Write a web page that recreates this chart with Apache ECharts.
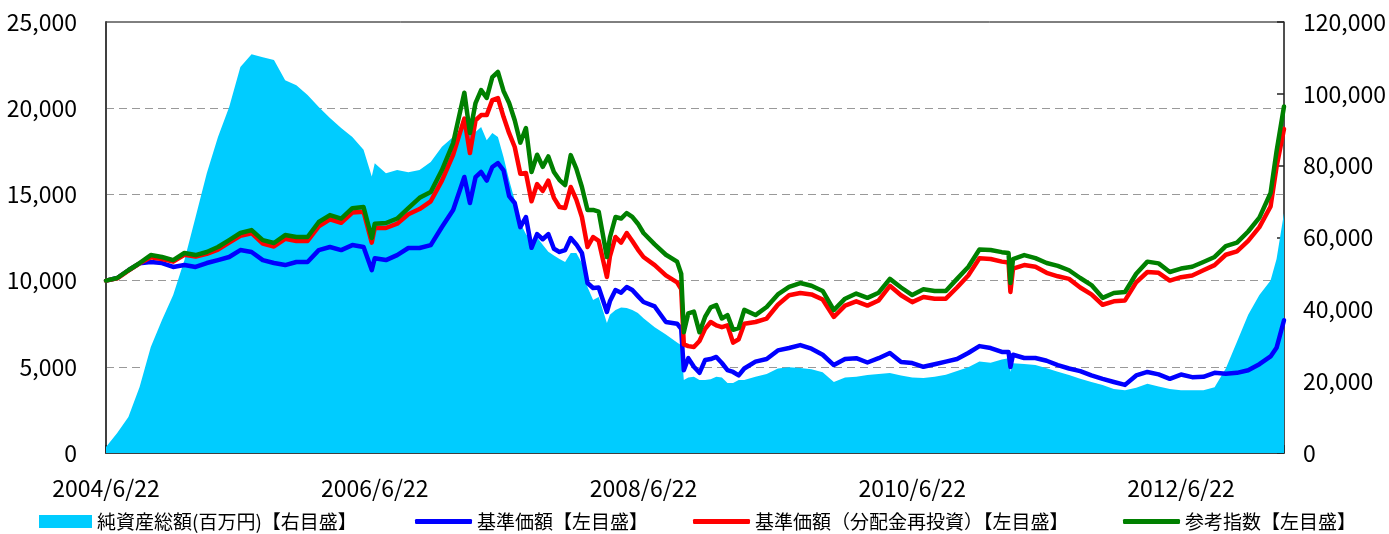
<!DOCTYPE html>
<html>
<head>
<meta charset="utf-8">
<title>基準価額・純資産総額の推移</title>
<script src="https://cdn.jsdelivr.net/npm/echarts@6/dist/echarts.min.js"></script>
<style>
html, body { margin: 0; padding: 0; background: #fff; }
#main { width: 1389px; height: 534px; }
</style>
</head>
<body>
<div id="main"></div>
<script>
// 日付（ほぼ月次、値動きの大きい期間は月2回）
var dates = [
	'2004/6/22','2004/7/22','2004/8/22','2004/9/22','2004/10/22','2004/11/22','2004/12/22',
	'2005/1/22','2005/2/22','2005/3/22','2005/4/22','2005/5/22','2005/6/22','2005/7/22','2005/8/22','2005/9/22','2005/10/22','2005/11/22','2005/12/22',
	'2006/1/22','2006/2/22','2006/3/22','2006/4/22','2006/5/22','2006/6/14','2006/6/22','2006/7/22','2006/8/22','2006/9/22','2006/10/22','2006/11/22','2006/12/22',
	'2007/1/22','2007/2/22','2007/3/7','2007/3/22','2007/4/7','2007/4/22','2007/5/7','2007/5/22','2007/6/7','2007/6/22','2007/7/7','2007/7/22','2007/8/7','2007/8/22','2007/9/7','2007/9/22','2007/10/7','2007/10/22','2007/11/7','2007/11/22','2007/12/7','2007/12/22',
	'2008/1/7','2008/1/22','2008/2/7','2008/2/22','2008/3/14','2008/3/22','2008/4/7','2008/4/22','2008/5/7','2008/5/22','2008/6/7','2008/6/22','2008/7/22','2008/8/22','2008/9/22','2008/10/3','2008/10/10','2008/10/22','2008/11/7','2008/11/22','2008/12/7','2008/12/22',
	'2009/1/7','2009/1/22','2009/2/7','2009/2/22','2009/3/7','2009/3/22','2009/4/22','2009/5/22','2009/6/22','2009/7/22','2009/8/22','2009/9/22','2009/10/22','2009/11/22','2009/12/22',
	'2010/1/22','2010/2/22','2010/3/22','2010/4/22','2010/5/22','2010/6/22','2010/7/22','2010/8/22','2010/9/22','2010/10/22','2010/11/22','2010/12/22',
	'2011/1/22','2011/2/22','2011/3/10','2011/3/15','2011/3/22','2011/4/22','2011/5/22','2011/6/22','2011/7/22','2011/8/22','2011/9/22','2011/10/22','2011/11/22','2011/12/22',
	'2012/1/22','2012/2/22','2012/3/22','2012/4/22','2012/5/22','2012/6/22','2012/7/22','2012/8/22','2012/9/22','2012/10/22','2012/11/22','2012/12/22',
	'2013/1/22','2013/2/22','2013/3/8','2013/3/28'
];

// 純資産総額(百万円)【右目盛】
var netAssets = [
	1700,5600,10000,18400,29500,37000,44000,
	53700,65700,77900,88000,96300,107500,111000,110200,109400,103800,102400,99700,
	96300,93300,90500,88000,84400,77000,80700,77900,78800,78200,78800,81000,85300,
	88000,90800,89400,89400,90800,87100,89100,88000,82400,76000,70400,64000,61000,59000,60000,58000,56000,55000,54000,53200,55700,55700,
	52900,46200,42600,43400,36200,38500,39800,40500,40400,39800,39000,37500,35000,33000,30800,30000,20300,21000,21200,20300,20300,20500,
	21200,21000,19500,19500,20300,20300,21200,22000,23500,23900,23700,23300,22500,19800,21000,
	21200,21700,22000,22300,21600,21000,20900,21200,21800,22800,23900,25500,
	25100,26000,26400,22600,25000,24800,24500,23600,22600,21700,20700,19800,18900,17800,
	17500,18200,19300,18500,17800,17500,17500,17500,18300,23500,31000,38500,
	44000,48000,54000,66800
];

// 基準価額【左目盛】
var nav = [
	10000,10150,10600,11000,11080,11020,10790,
	10900,10790,11020,11190,11370,11770,11660,11190,11020,10900,11080,11080,
	11770,11950,11770,12060,11950,10610,11300,11190,11480,11890,11890,12060,13110,
	14100,16010,14500,16000,16300,15800,16590,16820,16400,14900,14500,13100,13690,11900,12700,12400,12700,11850,11660,11770,12470,12100,
	11600,9860,9570,9600,8180,8800,9450,9300,9630,9450,9100,8760,8500,7600,7500,7200,4800,5500,5000,4650,5390,5450,
	5570,5220,4810,4700,4500,4900,5300,5450,5950,6090,6260,6050,5700,5100,5450,
	5500,5250,5500,5800,5280,5220,5000,5150,5300,5450,5800,6200,
	6090,5860,5860,4990,5700,5510,5510,5350,5100,4900,4750,4500,4300,4120,
	3950,4500,4700,4560,4300,4550,4400,4420,4650,4600,4650,4800,
	5150,5600,6100,7700
];

// 基準価額（分配金再投資）【左目盛】
var navReinvest = [
	10000,10130,10580,11000,11350,11250,11100,
	11500,11400,11550,11800,12200,12600,12750,12150,11980,12420,12300,12300,
	13150,13550,13350,13950,14000,12200,13050,13050,13300,13850,14150,14600,15800,
	17300,19400,17400,19300,19600,19600,20470,20590,19500,18550,17750,16200,16240,14600,15600,15200,15800,14800,14270,14210,15430,14700,
	13690,11950,12530,12300,10210,11400,12530,12200,12760,12300,11800,11370,10900,10300,9900,9500,6300,6200,6150,6500,7200,7600,
	7400,7300,7400,6400,6600,7500,7600,7800,8600,9150,9280,9200,8900,7890,8550,
	8800,8550,8850,9700,9150,8750,9050,8950,8950,9600,10300,11300,
	11250,11100,11050,9340,10700,10900,10800,10450,10250,10100,9600,9200,8600,8800,
	8850,9900,10500,10450,10000,10200,10300,10600,10900,11500,11700,12300,
	13100,14300,16600,18800
];

// 参考指数【左目盛】
var refIndex = [
	10000,10150,10600,11020,11480,11370,11190,
	11600,11480,11660,11950,12350,12760,12930,12350,12180,12640,12530,12530,
	13400,13800,13600,14200,14270,12470,13300,13340,13600,14200,14800,15140,16410,
	17980,20900,18560,20300,21050,20600,21800,22100,21000,20300,19300,18000,18850,16300,17300,16600,17200,16300,15830,15540,17280,16500,
	15430,14100,14100,14000,11370,12500,13690,13600,13920,13700,13300,12760,12100,11500,11100,10400,7000,8100,8200,7000,7890,8450,
	8580,7800,8000,7150,7250,8300,8000,8470,9200,9630,9860,9700,9400,8290,8950,
	9250,9000,9300,10100,9600,9160,9500,9400,9400,10100,10790,11800,
	11770,11650,11600,9860,11250,11480,11300,11020,10850,10600,10150,9740,9000,9280,
	9340,10400,11100,11000,10500,10700,10800,11080,11370,12000,12200,12850,
	13650,15080,17500,20100
];

// 横軸の目盛ラベル（24か月ごと）
var tickDates = ['2004/6/22', '2006/6/22', '2008/6/22', '2010/6/22', '2012/6/22'];

var seriesNames = ['純資産総額(百万円)【右目盛】', '基準価額【左目盛】', '基準価額（分配金再投資）【左目盛】', '参考指数【左目盛】'];
var seriesColors = ['#00CCFF', '#0000FF', '#FF0000', '#008000'];

var FONT = "'Noto Sans CJK JP', 'Noto Sans', sans-serif";

// 日付 -> 2004/6/22 からの月数
var toMonth = function(s) {
	var p = s.split('/');
	return (Number(p[0]) - 2004) * 12 + (Number(p[1]) - 6) + (Number(p[2]) - 22) / 30;
};

var pairs = function(vals) {
	var out = [];
	for (var i = 0; i < dates.length; i++) {
		out.push([toMonth(dates[i]), vals[i]]);
	}
	return out;
};

var fmt = function(v) {
	return String(v).replace(/\B(?=(\d{3})+(?!\d))/g, ',');
};

var lineSeries = function(idx, vals) {
	return {
		name: seriesNames[idx],
		type: 'line',
		yAxisIndex: 0,
		data: pairs(vals),
		showSymbol: false,
		symbol: 'none',
		color: seriesColors[idx],
		lineStyle: { width: 4.5, color: seriesColors[idx], cap: 'round', join: 'round' },
		itemStyle: { color: seriesColors[idx] }
	};
};

var legendItem = function(idx, left, w, h, icon) {
	return {
		left: left,
		top: 512,
		padding: 0,
		icon: icon,
		itemWidth: w,
		itemHeight: h,
		data: [seriesNames[idx]],
		selectedMode: false,
		textStyle: { fontFamily: FONT, fontSize: 19, color: '#000' }
	};
};

var myChart = echarts.init(document.getElementById('main'), null, { renderer: 'canvas' });

var option = {
	animation: false,
	backgroundColor: '#fff',
	grid: {
		left: 106, right: 102, top: 22, bottom: 81,
		show: true, borderColor: '#000', borderWidth: 1
	},
	legend: [
		legendItem(0, 39, 53, 13, 'rect'),
		legendItem(1, 415, 57, 5, 'roundRect'),
		legendItem(2, 693, 57, 5, 'roundRect'),
		legendItem(3, 1123, 57, 5, 'roundRect')
	],
	xAxis: {
		type: 'value',
		min: 0,
		max: toMonth(dates[dates.length - 1]),
		interval: 24,
		axisLine: { show: true, lineStyle: { color: '#404040', width: 2 } },
		axisTick: { show: true, inside: true, length: 8, lineStyle: { color: '#222', width: 1.5 } },
		splitLine: { show: false },
		axisLabel: {
			margin: 24,
			fontFamily: FONT, fontSize: 23, color: '#000',
			formatter: function(v) {
				var i = v / 24;
				return (Math.abs(i - Math.round(i)) < 1e-6 && tickDates[Math.round(i)]) ? tickDates[Math.round(i)] : '';
			}
		}
	},
	yAxis: [
		{
			type: 'value',
			min: 0, max: 25000, interval: 5000,
			position: 'left',
			axisLine: { show: true, lineStyle: { color: '#404040', width: 2 } },
			axisTick: { show: false },
			splitLine: {
				show: true, showMinLine: false, showMaxLine: false,
				lineStyle: { color: '#999', width: 1, type: [8, 5] }
			},
			axisLabel: { margin: 29, fontFamily: FONT, fontSize: 23, color: '#000', formatter: fmt }
		},
		{
			type: 'value',
			min: 0, max: 120000, interval: 20000,
			position: 'right',
			axisLine: { show: true, lineStyle: { color: '#404040', width: 1.5 } },
			axisTick: { show: true, inside: true, length: 7, lineStyle: { color: '#222', width: 1.5 } },
			splitLine: { show: false },
			axisLabel: { margin: 19, fontFamily: FONT, fontSize: 23, color: '#000', formatter: fmt }
		}
	],
	series: [
		{
			name: seriesNames[0],
			type: 'line',
			yAxisIndex: 1,
			data: pairs(netAssets),
			showSymbol: false,
			symbol: 'none',
			color: seriesColors[0],
			lineStyle: { width: 0 },
			itemStyle: { color: seriesColors[0] },
			areaStyle: { color: seriesColors[0], opacity: 1 }
		},
		lineSeries(1, nav),
		lineSeries(2, navReinvest),
		lineSeries(3, refIndex)
	]
};

myChart.setOption(option);
</script>
</body>
</html>
